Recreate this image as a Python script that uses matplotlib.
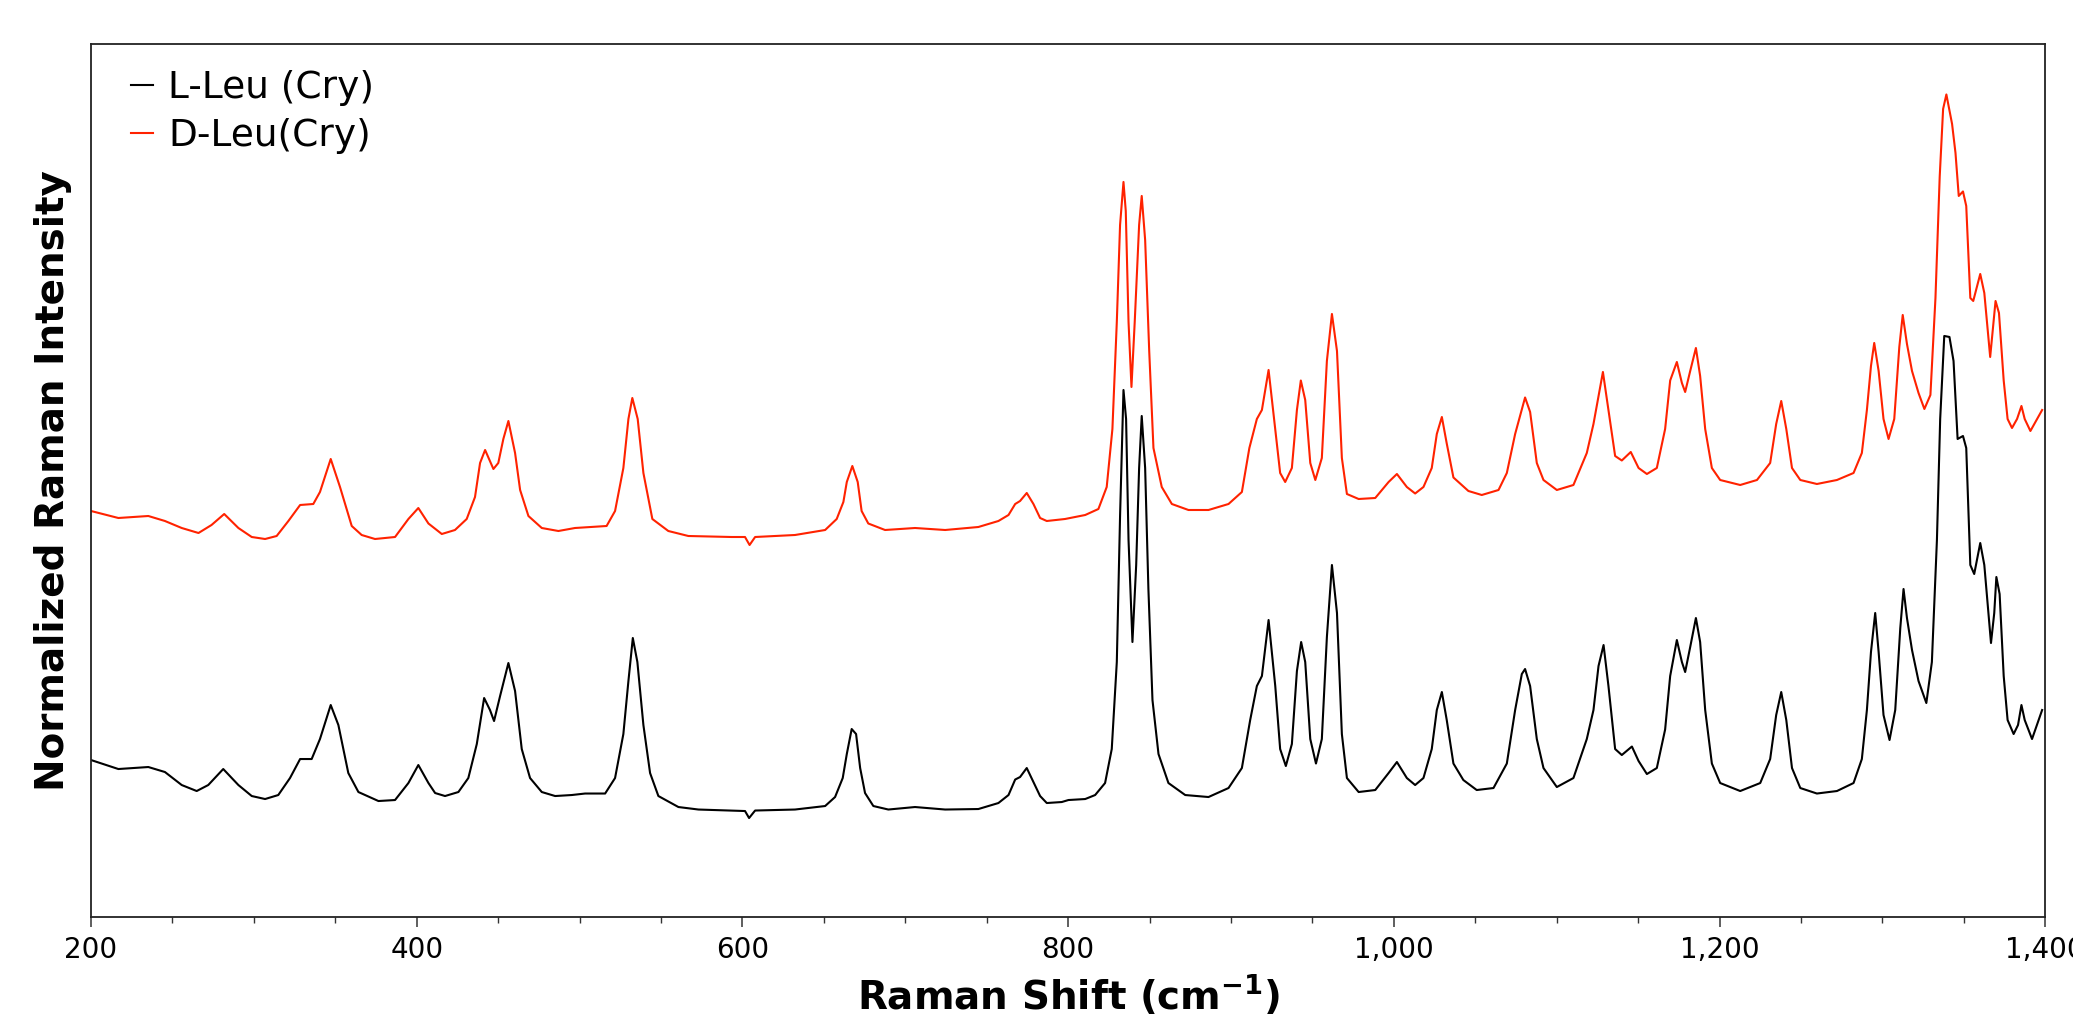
import numpy as np
import matplotlib
matplotlib.use("Agg")
import matplotlib.pyplot as plt
from matplotlib.ticker import FuncFormatter, MultipleLocator


#? ================================= Dados lidos do espectro
# L-Leu (Cry), preto
wn_l = [200.0, 216.8, 235.2, 245.4, 255.7, 264.9, 272.0, 281.2, 290.5, 298.7, 306.9, 315.0,
        322.2, 328.4, 335.5, 340.6, 347.2, 351.9, 358.0, 364.2, 376.5, 386.7, 394.9, 401.0,
        407.2, 411.3, 417.4, 425.6, 431.7, 436.9, 441.4, 445.0, 447.5, 451.2, 456.3, 460.4,
        464.5, 469.6, 476.8, 485.0, 495.2, 503.4, 515.7, 521.8, 526.9, 530.0, 532.7, 535.5,
        539.2, 543.3, 548.4, 560.7, 573.0, 593.4, 601.6, 604.1, 607.8, 632.3, 650.8, 656.9,
        661.6, 664.1, 667.1, 669.8, 672.3, 675.3, 680.4, 689.6, 706.0, 724.5, 744.9, 757.2,
        763.4, 767.5, 770.5, 774.6, 778.7, 782.8, 786.9, 796.1, 800.2, 810.5, 816.6, 822.7,
        826.8, 829.9, 831.9, 834.0, 835.6, 837.1, 839.5, 841.8, 843.6, 845.2, 847.3, 849.3,
        851.8, 855.5, 861.6, 871.9, 886.2, 898.5, 906.7, 911.8, 915.9, 919.0, 923.1, 927.2,
        930.2, 933.7, 937.4, 940.5, 943.1, 945.6, 948.7, 952.2, 955.8, 958.9, 962.0, 965.1,
        968.1, 971.2, 978.4, 988.6, 996.8, 1001.9, 1008.0, 1013.1, 1018.2, 1023.3, 1026.4,
        1029.5, 1032.5, 1036.6, 1042.7, 1050.9, 1061.2, 1069.4, 1074.5, 1078.6, 1080.6,
        1083.7, 1087.8, 1091.9, 1100.1, 1110.3, 1118.5, 1122.6, 1125.7, 1128.8, 1131.8,
        1135.9, 1140.0, 1146.2, 1150.3, 1155.4, 1161.5, 1166.6, 1169.7, 1173.8, 1176.9,
        1178.9, 1182.0, 1185.5, 1188.1, 1191.2, 1195.3, 1200.4, 1212.7, 1225.0, 1231.1,
        1234.8, 1237.9, 1241.0, 1244.5, 1249.6, 1259.8, 1272.1, 1282.3, 1287.4, 1290.5,
        1293.0, 1295.6, 1297.7, 1300.7, 1304.4, 1307.9, 1311.0, 1313.0, 1315.1, 1318.2,
        1322.2, 1327.0, 1330.4, 1333.5, 1335.5, 1338.0, 1341.2, 1343.7, 1346.2, 1349.5,
        1351.5, 1354.0, 1356.4, 1360.1, 1362.6, 1366.7, 1368.7, 1370.0, 1372.0, 1374.5,
        1376.9, 1380.6, 1383.3, 1385.4, 1387.4, 1391.9, 1398.1]
int_l = [15.7, 14.8, 15.0, 14.5, 13.2, 12.6, 13.2, 14.8, 13.2, 12.1, 11.8, 12.2,
         13.9, 15.8, 15.8, 17.8, 21.2, 19.2, 14.4, 12.5, 11.6, 11.7, 13.4, 15.2,
         13.4, 12.4, 12.1, 12.5, 13.9, 17.3, 21.9, 20.7, 19.6, 22.1, 25.4, 22.6,
         16.8, 13.9, 12.5, 12.1, 12.2, 12.35, 12.35, 13.9, 18.3, 23.6, 27.9, 25.5,
         19.2, 14.4, 12.1, 11.0, 10.75, 10.65, 10.6, 9.9, 10.65, 10.75, 11.1, 12.0,
         13.9, 16.3, 18.8, 18.3, 14.9, 12.4, 11.1, 10.75, 11.0, 10.75, 10.8, 11.4,
         12.2, 13.75, 14.0, 14.9, 13.5, 12.1, 11.4, 11.5, 11.7, 11.8, 12.2, 13.4,
         16.8, 25.5, 40.1, 52.7, 49.8, 37.7, 27.5, 35.2, 44.9, 50.1, 44.9, 32.8,
         21.7, 16.3, 13.4, 12.2, 12.0, 12.9, 14.9, 19.7, 23.1, 24.1, 29.7, 23.1,
         16.8, 15.1, 17.3, 24.6, 27.5, 25.5, 17.8, 15.35, 17.8, 28.0, 35.2, 30.4,
         18.3, 13.9, 12.5, 12.7, 14.4, 15.5, 13.9, 13.2, 13.9, 16.8, 20.7,
         22.5, 19.7, 15.35, 13.7, 12.7, 12.9, 15.35, 20.7, 24.3, 24.8,
         23.1, 17.8, 14.9, 13.0, 13.9, 17.8, 20.7, 25.1, 27.2, 23.1,
         16.8, 16.2, 17.05, 15.6, 14.3, 14.9, 18.75, 24.1, 27.7, 25.5,
         24.5, 27.0, 29.9, 27.5, 20.7, 15.35, 13.4, 12.6, 13.4, 15.8,
         20.2, 22.5, 19.7, 14.9, 12.9, 12.35, 12.6, 13.4, 15.8, 20.7,
         26.5, 30.4, 26.5, 20.2, 17.7, 20.7, 28.9, 32.8, 29.9, 26.7,
         23.6, 21.4, 25.5, 37.7, 49.8, 58.1, 58.0, 55.6, 47.8, 48.1,
         46.9, 35.2, 34.3, 37.4, 35.2, 27.4, 30.4, 34.0, 32.3, 24.1,
         19.7, 18.3, 19.2, 21.2, 19.7, 17.8, 20.7]

# D-Leu (Cry), vermelho
wn_d = [200.0, 216.8, 235.2, 245.4, 255.7, 266.0, 274.0, 281.8, 290.5, 298.7, 306.9, 314.0,
        321.2, 328.4, 336.5, 340.6, 347.2, 352.9, 360.1, 366.2, 374.4, 386.7, 394.9, 401.0,
        407.2, 415.4, 423.5, 430.7, 435.8, 438.9, 442.0, 447.1, 450.1, 453.2, 456.3, 460.4,
        463.5, 468.6, 476.8, 487.0, 497.2, 516.6, 521.8, 526.9, 530.0, 532.4, 535.7, 539.2,
        544.7, 554.5, 566.8, 593.4, 601.6, 604.4, 607.8, 632.3, 650.8, 657.9, 662.0, 664.1,
        667.5, 670.8, 673.2, 677.3, 687.6, 706.0, 724.5, 744.9, 757.2, 763.4, 767.5, 770.5,
        774.6, 778.7, 782.8, 786.9, 798.1, 810.5, 818.6, 823.7, 827.2, 829.9, 831.9, 834.0,
        835.4, 837.1, 838.9, 840.9, 843.6, 845.2, 847.3, 849.8, 852.4, 857.5, 863.7, 873.9,
        886.2, 898.5, 906.7, 911.3, 915.9, 919.0, 923.1, 927.2, 930.2, 933.3, 937.4, 940.5,
        942.9, 945.6, 948.7, 951.8, 955.8, 958.9, 962.0, 965.1, 968.1, 971.2, 978.4, 988.6,
        996.8, 1001.9, 1008.0, 1013.1, 1018.2, 1023.3, 1026.4, 1029.5, 1032.5, 1036.6,
        1045.8, 1054.0, 1064.3, 1069.4, 1074.5, 1080.6, 1083.7, 1087.8, 1091.9, 1100.1,
        1110.3, 1118.5, 1122.6, 1128.4, 1131.8, 1135.9, 1140.0, 1145.5, 1150.3, 1155.4,
        1161.5, 1166.6, 1169.7, 1173.8, 1176.9, 1178.9, 1182.0, 1185.5, 1188.1, 1191.2,
        1195.3, 1200.4, 1212.7, 1223.0, 1231.1, 1234.8, 1237.9, 1241.0, 1244.5, 1249.6,
        1259.8, 1272.1, 1282.3, 1287.4, 1290.5, 1293.0, 1295.0, 1297.7, 1300.7, 1303.8,
        1307.3, 1310.4, 1312.5, 1315.1, 1318.2, 1322.2, 1325.8, 1329.5, 1332.6, 1335.2,
        1337.3, 1339.3, 1342.8, 1344.9, 1346.9, 1349.5, 1351.5, 1354.0, 1355.8, 1360.1,
        1362.6, 1366.2, 1369.5, 1371.6, 1374.5, 1376.9, 1379.6, 1382.7, 1385.4, 1387.4,
        1390.9, 1398.1]
int_d = [40.6, 39.9, 40.1, 39.6, 38.9, 38.4, 39.2, 40.3, 38.9, 38.0, 37.8, 38.1,
         39.6, 41.2, 41.3, 42.5, 45.8, 43.0, 39.1, 38.2, 37.8, 38.0, 39.8, 40.9,
         39.35, 38.3, 38.7, 39.8, 42.0, 45.4, 46.7, 44.8, 45.4, 47.8, 49.6, 46.4,
         42.7, 40.1, 38.9, 38.6, 38.9, 39.1, 40.6, 44.9, 49.8, 51.9, 49.8, 44.4,
         39.8, 38.6, 38.1, 38.0, 38.0, 37.2, 38.0, 38.2, 38.7, 39.8, 41.5, 43.5,
         45.1, 43.5, 40.6, 39.35, 38.7, 38.9, 38.7, 39.0, 39.6, 40.2, 41.3, 41.6,
         42.4, 41.3, 39.9, 39.6, 39.8, 40.2, 40.8, 43.0, 48.8, 59.5, 69.2, 73.5,
         70.6, 59.5, 53.0, 59.5, 69.2, 72.1, 67.7, 56.6, 46.9, 43.0, 41.3, 40.7,
         40.7, 41.3, 42.5, 46.9, 49.8, 50.7, 54.7, 48.8, 44.4, 43.5, 44.9, 50.7,
         53.65, 51.7, 45.4, 43.7, 45.9, 55.6, 60.3, 56.6, 45.9, 42.3, 41.8, 41.9,
         43.5, 44.3, 43.0, 42.35, 43.0, 44.9, 48.3, 50.0, 47.35, 43.95,
         42.6, 42.2, 42.7, 44.4, 48.3, 51.95, 50.5, 45.4, 43.7, 42.7,
         43.2, 46.4, 49.3, 54.5, 50.7, 46.1, 45.65, 46.5, 44.9, 44.3,
         44.9, 48.8, 53.65, 55.5, 53.4, 52.5, 54.6, 56.9, 54.1, 48.8,
         44.9, 43.7, 43.2, 43.7, 45.4, 49.3, 51.6, 48.8, 44.9, 43.7,
         43.3, 43.7, 44.4, 46.4, 50.7, 55.1, 57.4, 54.6, 49.8, 47.8,
         49.8, 57.0, 60.2, 57.3, 54.6, 52.4, 50.8, 52.2, 61.9, 74.0,
         80.8, 82.25, 79.3, 76.4, 72.1, 72.55, 71.1, 61.9, 61.6, 64.3,
         62.4, 56.0, 61.6, 60.4, 53.65, 49.8, 48.9, 49.8, 51.1, 49.8,
         48.6, 50.7]


#? ================================= Figura
fig = plt.figure(figsize=(20.73, 10.22), dpi=100)
ax = fig.add_axes([0.0439, 0.1027, 0.9427, 0.8543])

ax.plot(wn_l, int_l, color='black', linewidth=1.5, label='L-Leu (Cry)')
ax.plot(wn_d, int_d, color='#ff2200', linewidth=1.5, label='D-Leu(Cry)')

ax.set_xlim(200, 1400)
ax.set_ylim(0, 87.3)

ax.xaxis.set_major_locator(MultipleLocator(200))
ax.xaxis.set_minor_locator(MultipleLocator(50))
ax.xaxis.set_major_formatter(FuncFormatter(lambda v, p: f'{v:,.0f}'))
ax.tick_params(axis='x', which='major', direction='out', length=7, width=1.1,
               pad=7, labelsize=20, color='#333333')
ax.tick_params(axis='x', which='minor', direction='out', length=4, width=1.0,
               color='#333333')
ax.set_yticks([])

for s in ax.spines.values():
    s.set_color('#222222')
    s.set_linewidth(1.3)

ax.set_xlabel(r'Raman Shift (cm$^{\mathbf{-1}}$)', fontsize=28, fontweight='bold', labelpad=6)
ax.set_ylabel('Normalized Raman Intensity', fontsize=28, fontweight='bold', labelpad=14)

ax.legend(loc='upper left', frameon=False, fontsize=27, handlelength=0.6,
          handletextpad=0.4, labelspacing=0.32, borderaxespad=0.3,
          bbox_to_anchor=(0.007, 1.0))

fig.savefig('out.png', dpi=100, facecolor='white')
